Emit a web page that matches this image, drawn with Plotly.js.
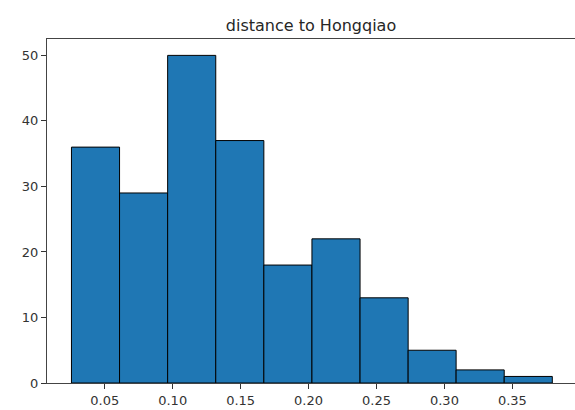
<!DOCTYPE html>
<html>
<head>
<meta charset="utf-8">
<script src="https://cdn.plot.ly/plotly-3.0.1.min.js"></script>
<style>
  html, body { margin: 0; padding: 0; background: #fff; }
  #chart { width: 575px; height: 410px; }
</style>
</head>
<body>
<div id="chart"></div>
<script>
// Histogram of distances to Hongqiao: 10 bins
const binEdges = [0.0255, 0.0609, 0.0963, 0.1317, 0.1671, 0.2025, 0.2379, 0.2733, 0.3086, 0.3440, 0.3794];
const counts = [36, 29, 50, 37, 18, 22, 13, 5, 2, 1];
const xTickVals = [0.05, 0.10, 0.15, 0.20, 0.25, 0.30, 0.35];
const xTickText = ['0.05', '0.10', '0.15', '0.20', '0.25', '0.30', '0.35'];
const yTickVals = [0, 10, 20, 30, 40, 50];
const titleText = 'distance to Hongqiao';

// bar centres and widths come from consecutive bin edges
const centers = counts.map((_, i) => (binEdges[i] + binEdges[i + 1]) / 2);
const widths = counts.map((_, i) => binEdges[i + 1] - binEdges[i]);

const trace = {
  type: 'bar',
  x: centers,
  y: counts,
  width: widths,
  marker: { color: '#1f77b4', line: { color: '#000000', width: 1 } },
  hoverinfo: 'x+y'
};

const axisFont = { family: 'DejaVu Sans, sans-serif', size: 13, color: '#333333' };

const layout = {
  width: 575,
  height: 410,
  margin: { l: 47, r: 0, t: 39, b: 27, pad: 0 },
  paper_bgcolor: '#ffffff',
  plot_bgcolor: '#ffffff',
  showlegend: false,
  bargap: 0,
  title: {
    text: titleText,
    font: { family: 'DejaVu Sans, sans-serif', size: 16, color: '#262626' },
    x: 0.5, xref: 'paper', xanchor: 'center',
    y: 1, yref: 'paper', yanchor: 'bottom',
    pad: { b: 8 }
  },
  xaxis: {
    range: [0.0075, 0.3961],
    tickmode: 'array',
    tickvals: xTickVals,
    ticktext: xTickText,
    ticks: 'outside',
    ticklen: 5,
    tickwidth: 1,
    tickcolor: '#333333',
    showline: true,
    linecolor: '#444444',
    linewidth: 1,
    mirror: true,
    showgrid: false,
    zeroline: false,
    tickfont: axisFont
  },
  yaxis: {
    range: [0, 52.5],
    tickmode: 'array',
    tickvals: yTickVals,
    ticks: 'outside',
    ticklen: 5,
    tickwidth: 1,
    tickcolor: '#333333',
    showline: true,
    linecolor: '#444444',
    linewidth: 1,
    showgrid: false,
    zeroline: false,
    tickfont: axisFont
  }
};

Plotly.newPlot('chart', [trace], layout, { displayModeBar: false, staticPlot: true });
</script>
</body>
</html>
